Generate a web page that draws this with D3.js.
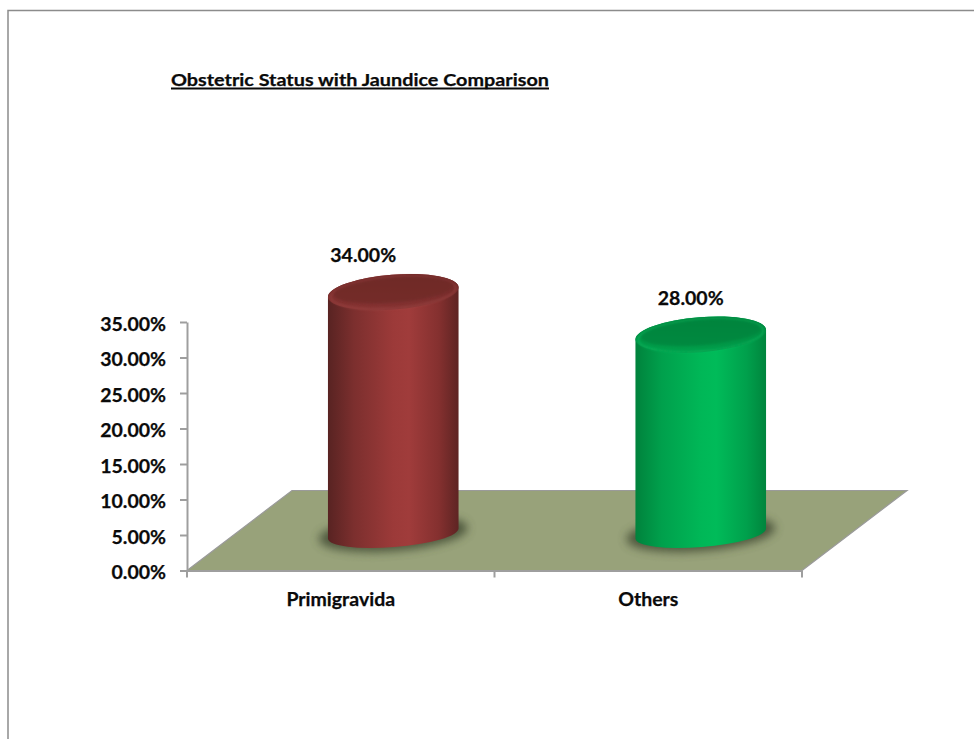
<!DOCTYPE html>
<html>
<head>
<meta charset="utf-8">
<script src="https://cdn.jsdelivr.net/npm/d3@7"></script>
<style>
html,body{margin:0;padding:0;background:#fff;}
svg{display:block;}
text{font-family:Lato,"Open Sans",sans-serif;font-weight:700;fill:#0a0a0a;stroke:#0a0a0a;stroke-width:0.25px;}
</style>
</head>
<body>
<svg id="chart" width="974" height="739"></svg>
<script>
const categories = ["Primigravida", "Others"];
const values = [34, 28];
const yTicks = [0, 5, 10, 15, 20, 25, 30, 35];
const chartTitle = "Obstetric Status with Jaundice Comparison";

const palettes = [
  {side: ["#582322", "#7c2f2e", "#9c3a39", "#a03c3b", "#84302f", "#5e2423"],
   topA: "#6f2928", topB: "#8a3534", rim: "#a24a48"},
  {side: ["#00823c", "#00a04c", "#00b757", "#00bb59", "#00a04c", "#00853d"],
   topA: "#00843d", topB: "#00a34d", rim: "#14bf66"}
];
const stops = [0, 0.2, 0.5, 0.62, 0.85, 1];
const labelShifts = [-30, -10];

const svg = d3.select("#chart");
const W = 974, H = 739;
const plot = {left: 187, right: 802, top: 322, bottom: 570.5};
const depth = {dx: 105, dy: 80};
const tilt = -4.5, rx = 65.5, ry = 17.5, baseRy = 13.5;
const labelSize = 19.5;

const x = d3.scaleBand().domain(categories).range([plot.left, plot.right]);
const y = d3.scaleLinear().domain([0, 35]).range([plot.bottom, plot.top]);

const defs = svg.append("defs");
const wide = {x: "-30%", y: "-80%", width: "160%", height: "260%"};
[["soft", 5], ["rimBlur", 1]].forEach(([id, sd]) => {
  defs.append("filter").attr("id", id)
    .attr("x", wide.x).attr("y", wide.y).attr("width", wide.width).attr("height", wide.height)
    .append("feGaussianBlur").attr("stdDeviation", sd);
});

palettes.forEach((p, i) => {
  const g = defs.append("linearGradient").attr("id", "side" + i);
  stops.forEach((s, k) => g.append("stop").attr("offset", s).attr("stop-color", p.side[k]));
  const t = defs.append("linearGradient").attr("id", "top" + i)
    .attr("x1", 0.1).attr("y1", 1).attr("x2", 0.5).attr("y2", 0);
  t.append("stop").attr("offset", 0).attr("stop-color", p.topB);
  t.append("stop").attr("offset", 1).attr("stop-color", p.topA);
});

// Outer frame
svg.append("path").attr("d", `M8,${H}V10.5H${W}`)
  .attr("fill", "none").attr("stroke", "#8c8c8c").attr("stroke-width", 1.5);

// Title with its underline
svg.append("text").attr("x", 171).attr("y", 85.5)
  .attr("font-size", 17).attr("textLength", 378).attr("lengthAdjust", "spacingAndGlyphs")
  .text(chartTitle);
svg.append("line").attr("x1", 171).attr("x2", 549).attr("y1", 88.5).attr("y2", 88.5)
  .attr("stroke", "#0a0a0a").attr("stroke-width", 1.8);

// Floor of the 3-D plot area
const floor = [
  [plot.left, plot.bottom], [plot.right, plot.bottom],
  [plot.right + depth.dx, plot.bottom - depth.dy],
  [plot.left + depth.dx, plot.bottom - depth.dy]
];
svg.append("polygon").attr("points", floor.join(" ")).attr("fill", "#98a27a");
svg.append("path")
  .attr("d", d3.line()([floor[0], floor[3], floor[2], floor[1]]))
  .attr("fill", "none").attr("stroke", "#9a9a9a").attr("stroke-width", 1.2);

// Axes
const yAxis = svg.append("g").attr("transform", `translate(${plot.left},0)`)
  .call(d3.axisLeft(y).tickValues(yTicks).tickSize(7).tickSizeOuter(0)
    .tickFormat(d => d3.format(".2f")(d) + "%"));
const xAxis = svg.append("g").attr("transform", `translate(0,${plot.bottom})`)
  .call(d3.axisBottom(x).tickSize(0));
xAxis.selectAll(".tick text").attr("dy", 0).attr("y", 35);
yAxis.selectAll(".tick text").attr("x", -21).attr("y", 2);
[yAxis, xAxis].forEach(a => {
  a.attr("font-family", null).attr("font-size", null);
  a.select(".domain").attr("stroke", "#9e9e9e").attr("stroke-width", 2);
  a.selectAll("line").attr("stroke", "#9e9e9e").attr("stroke-width", 2);
  a.selectAll("text").attr("font-size", labelSize).style("fill", "#0a0a0a");
});

// Category separators on the horizontal axis
const boundaries = [plot.left].concat(categories.map(c => x(c) + x.bandwidth()));
svg.append("g").selectAll("line").data(boundaries).join("line")
  .attr("x1", d => d).attr("x2", d => d)
  .attr("y1", plot.bottom).attr("y2", plot.bottom + 7)
  .attr("stroke", "#9e9e9e").attr("stroke-width", 2);

// Cylinders stand halfway into the floor's depth
const cosT = Math.cos(tilt * Math.PI / 180), sinT = Math.sin(tilt * Math.PI / 180);
const arc = (r1, r2, sweep, ex, ey) => `A${r1},${r2} ${tilt} 0 ${sweep} ${ex},${ey}`;
const bars = svg.append("g").selectAll("g").data(categories).join("g");

bars.each(function (c, i) {
  const g = d3.select(this), p = palettes[i];
  const cx = x(c) + x.bandwidth() / 2 + 52.5;
  const baseY = plot.bottom - 37;
  const topY = baseY - (y(0) - y(values[i]));
  const lx = cx - rx * cosT, rxx = cx + rx * cosT;
  const ly = -rx * sinT, ry2 = rx * sinT;
  const tilted = cy => `rotate(${tilt} ${cx} ${cy})`;

  // Contact shadow on the floor
  g.append("ellipse").attr("cx", cx).attr("cy", baseY)
    .attr("rx", rx + 9).attr("ry", baseRy + 4)
    .attr("transform", tilted(baseY))
    .attr("fill", "#3f4a32").attr("opacity", 0.85).attr("filter", "url(#soft)");

  g.append("path")
    .attr("d", `M${lx},${topY + ly}` + arc(rx, ry, 1, rxx, topY + ry2) +
      `L${rxx},${baseY + ry2}` + arc(rx, baseRy, 1, lx, baseY + ly) + "Z")
    .attr("fill", `url(#side${i})`);

  // Lid: outer face, soft bevel highlight, recessed centre
  g.append("ellipse").attr("cx", cx).attr("cy", topY)
    .attr("rx", rx).attr("ry", ry)
    .attr("transform", tilted(topY))
    .attr("fill", `url(#top${i})`);
  g.append("ellipse").attr("cx", cx).attr("cy", topY + 0.5)
    .attr("rx", rx - 3).attr("ry", ry - 1.5)
    .attr("transform", tilted(topY + 0.5))
    .attr("fill", "none").attr("stroke", p.rim).attr("stroke-width", 1.2)
    .attr("opacity", 0.7).attr("filter", "url(#rimBlur)");
  g.append("ellipse").attr("cx", cx).attr("cy", topY - 2)
    .attr("rx", rx - 6).attr("ry", ry - 5)
    .attr("transform", tilted(topY - 2))
    .attr("fill", p.topA).attr("opacity", 0.75).attr("filter", "url(#rimBlur)");

  g.append("text").attr("x", cx + labelShifts[i]).attr("y", topY - 30)
    .attr("text-anchor", "middle").attr("font-size", labelSize)
    .text(d3.format(".2f")(values[i]) + "%");
});
</script>
</body>
</html>
